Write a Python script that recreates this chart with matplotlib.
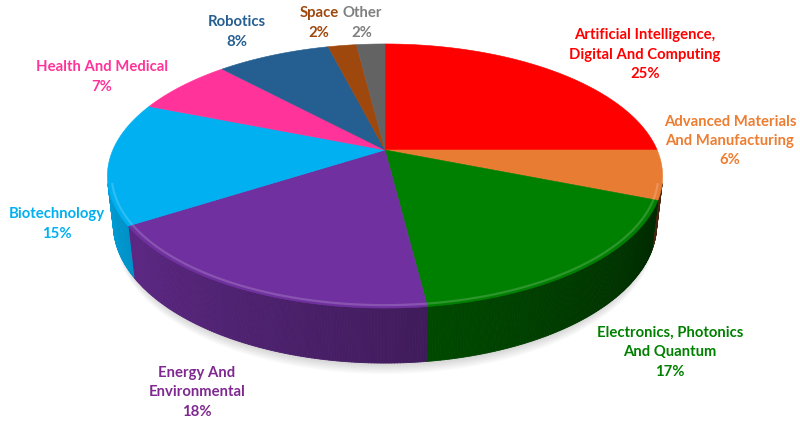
import numpy as np
import matplotlib
matplotlib.use("Agg")
import matplotlib.pyplot as plt
from matplotlib.collections import PolyCollection
from matplotlib.patches import Polygon
import matplotlib.colors as mcolors

# ---- data ----
categories = ["Artificial Intelligence,\nDigital And Computing",
              "Advanced Materials\nAnd Manufacturing",
              "Electronics, Photonics\nAnd Quantum",
              "Energy And\nEnvironmental",
              "Biotechnology",
              "Health And Medical",
              "Robotics",
              "Space",
              "Other"]
shares = [25, 6, 17, 18, 15, 7, 8, 2, 2]
slice_colors = ["#FF0000", "#E97C33", "#008000", "#7030A0", "#00B0F0",
                "#FF3399", "#255E91", "#9E480E", "#636363"]
label_colors = ["#FF0000", "#ED7D31", "#008000", "#7E2890", "#00B0F0",
                "#FF3399", "#255E91", "#9E480E", "#7F7F7F"]
# label anchor (center of text block) in pixel coords
label_pos = [(645, 55), (730, 141), (670, 352), (197, 392), (57, 224),
             (102, 77), (237, 32), (319, 23), (362, 23)]

# ---- perspective geometry ----
W, H = 800, 421
cx, cy = 385, 150
phi = np.radians(27.8)
sp, cp = np.sin(phi), np.cos(phi)
D = 4.49
f = 1222.0
h = 0.202


def proj(X, Y, Z):
    den = D + Y * cp - Z * sp
    u = cx + f * X / den
    v = cy - f * (Y * sp + Z * cp) / den
    return u, v


fig = plt.figure(figsize=(W / 100, H / 100), dpi=100)
ax = fig.add_axes([0, 0, 1, 1])
ax.set_xlim(0, W)
ax.set_ylim(H, 0)
ax.axis("off")

frac = np.array(shares, dtype=float) / np.sum(shares)
bounds = 90.0 - 360.0 * np.concatenate([[0], np.cumsum(frac)])

# ---- shadow (soft, below the front) ----
tt = np.radians(np.linspace(0, 360, 361))
for k in range(1, 11):
    u, v = proj(0.99 * np.cos(tt), 0.99 * np.sin(tt), -h)
    ax.add_patch(Polygon(np.column_stack([u, v + 1.3 * k]), closed=True,
                         facecolor="#000000", alpha=0.018, edgecolor="none",
                         zorder=1))

# ---- side walls (visible front range) ----
smin = -1.0 / (D * cp)
t_vis_lo = -180.0 + np.degrees(np.arcsin(-smin))   # about -165
t_vis_hi = -np.degrees(np.arcsin(-smin))            # about -15

quads, qcols = [], []
for i in range(len(shares)):
    a1, a2 = bounds[i + 1], bounds[i]   # a1 < a2
    lo, hi = max(a1, t_vis_lo), min(a2, t_vis_hi)
    if lo >= hi:
        continue
    n = max(2, int((hi - lo) / 0.5))
    ts = np.linspace(lo, hi, n + 1)
    base = np.array(mcolors.to_rgb(slice_colors[i]))
    for j in range(n):
        t0, t1 = np.radians(ts[j]), np.radians(ts[j + 1])
        tm = 0.5 * (ts[j] + ts[j + 1])
        fac = 0.9 - 0.6 * (tm - t_vis_lo) / (t_vis_hi - t_vis_lo)
        u0, v0 = proj(np.cos(t0), np.sin(t0), 0)
        u1, v1 = proj(np.cos(t1), np.sin(t1), 0)
        u2, v2 = proj(np.cos(t1), np.sin(t1), -h)
        u3, v3 = proj(np.cos(t0), np.sin(t0), -h)
        quads.append([(u0, v0), (u1, v1), (u2, v2), (u3, v3)])
        qcols.append(tuple(np.clip(base * fac, 0, 1)))
pc = PolyCollection(quads, facecolors=qcols, edgecolors=qcols, linewidths=0.6,
                    zorder=2)
ax.add_collection(pc)

# ---- top faces ----
for i in range(len(shares)):
    a1, a2 = bounds[i + 1], bounds[i]
    n = max(4, int((a2 - a1) / 0.5))
    ts = np.radians(np.linspace(a2, a1, n + 1))
    u, v = proj(np.cos(ts), np.sin(ts), 0)
    uc, vc = proj(0, 0, 0)
    pts = np.column_stack([np.r_[uc, u], np.r_[vc, v]])
    ax.add_patch(Polygon(pts, closed=True, facecolor=slice_colors[i],
                         edgecolor=slice_colors[i], linewidth=0.4, zorder=3))
    # bevel highlight along front edge
    lo, hi = max(a1, t_vis_lo), min(a2, t_vis_hi)
    if lo < hi:
        ts2 = np.radians(np.linspace(lo, hi, 100))
        ub, vb = proj(0.985 * np.cos(ts2), 0.985 * np.sin(ts2), 0)
        light = np.array(mcolors.to_rgb(slice_colors[i]))
        light = light + (1 - light) * 0.25
        ax.plot(ub, vb, color=tuple(light), lw=1.6, alpha=0.7, zorder=4,
                solid_capstyle="butt")

# ---- labels ----
for i in range(len(shares)):
    x, y = label_pos[i]
    ax.text(x, y, f"{categories[i]}\n{shares[i]}%", ha="center", va="center",
            color=label_colors[i], fontsize=10.7, fontweight="bold",
            family="Lato", linespacing=1.5, zorder=5)

fig.savefig("out.png", dpi=100)
